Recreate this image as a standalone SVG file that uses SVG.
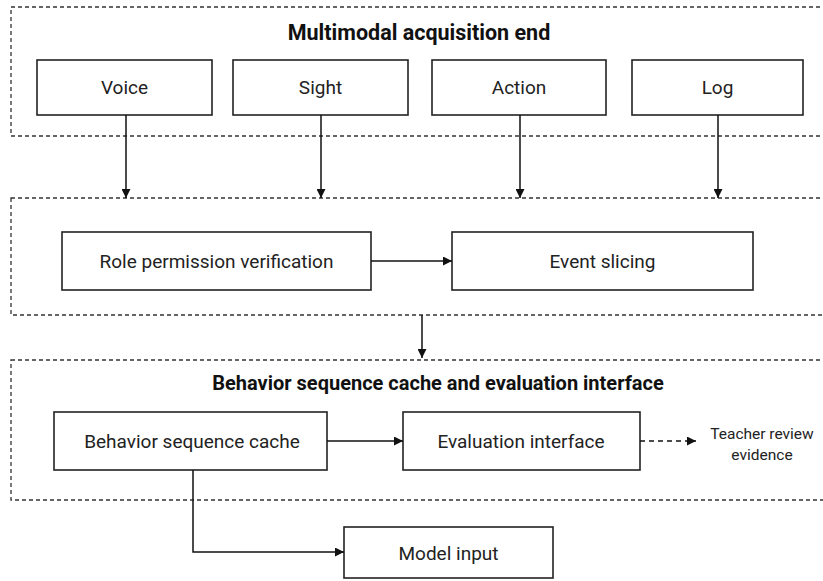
<svg xmlns="http://www.w3.org/2000/svg" width="823" height="581" viewBox="0 0 823 581">
<style>
.bg{fill:#ffffff}
.container{fill:none;stroke:#333;stroke-width:1.3;stroke-dasharray:4 3}
.box{fill:#fff;stroke:#222;stroke-width:1.6}
.t{font-family:Roboto,"Liberation Sans",sans-serif;font-size:19px;fill:#222;text-anchor:middle}
.title{font-family:Roboto,"Liberation Sans",sans-serif;font-size:20px;font-weight:bold;fill:#111;text-anchor:middle}
.small{font-family:Roboto,"Liberation Sans",sans-serif;font-size:15.5px;fill:#222;text-anchor:middle}
.edge{fill:none;stroke:#111;stroke-width:1.5}
.dashed{stroke-dasharray:5 4}
</style>
<defs>
<marker id="arrow" viewBox="0 0 10 10" refX="10" refY="5" markerWidth="9" markerHeight="9" markerUnits="userSpaceOnUse" orient="auto">
<path d="M0,0 L10,5 L0,10 Z" fill="#111"/>
</marker>
</defs>
<rect class="bg" x="0" y="0" width="823" height="581"/>

<g id="container-acquisition">
<rect class="container" x="11" y="7" width="830" height="129"/>
<text class="title" x="419" y="40" style="font-size:21.5px">Multimodal acquisition end</text>
</g>
<g id="container-processing">
<rect class="container" x="11" y="198" width="830" height="117"/>
</g>
<g id="container-cache">
<rect class="container" x="11" y="360" width="830" height="140"/>
<text class="title" x="438" y="390">Behavior sequence cache and evaluation interface</text>
</g>

<g id="voice"><rect class="box" x="37" y="60" width="175" height="55"/><text class="t" x="124.5" y="94">Voice</text></g>
<g id="sight"><rect class="box" x="233" y="60" width="175" height="55"/><text class="t" x="320.5" y="94">Sight</text></g>
<g id="action"><rect class="box" x="432" y="60" width="174" height="55"/><text class="t" x="519" y="94">Action</text></g>
<g id="log"><rect class="box" x="632" y="60" width="171" height="55"/><text class="t" x="717.5" y="94">Log</text></g>

<g id="role"><rect class="box" x="62" y="232" width="309" height="58"/><text class="t" x="216.5" y="268">Role permission verification</text></g>
<g id="event"><rect class="box" x="452" y="232" width="301" height="58"/><text class="t" x="602.5" y="268">Event slicing</text></g>

<g id="cache"><rect class="box" x="54" y="412" width="273" height="58"/><text class="t" x="192" y="448">Behavior sequence cache</text></g>
<g id="evaluation"><rect class="box" x="403" y="412" width="237" height="58"/><text class="t" x="521" y="448">Evaluation interface</text></g>
<g id="teacher"><text class="small" x="762" y="439">Teacher review</text><text class="small" x="762" y="460">evidence</text></g>
<g id="model"><rect class="box" x="344" y="527" width="209" height="51"/><text class="t" x="448.5" y="560">Model input</text></g>

<g id="connectors">
<line class="edge" x1="126" y1="115" x2="126" y2="198" marker-end="url(#arrow)"/>
<line class="edge" x1="321" y1="115" x2="321" y2="198" marker-end="url(#arrow)"/>
<line class="edge" x1="520" y1="115" x2="520" y2="198" marker-end="url(#arrow)"/>
<line class="edge" x1="718" y1="115" x2="718" y2="198" marker-end="url(#arrow)"/>
<line class="edge" x1="371" y1="261" x2="452" y2="261" marker-end="url(#arrow)"/>
<line class="edge" x1="422" y1="315" x2="422" y2="358" marker-end="url(#arrow)"/>
<line class="edge" x1="327" y1="441" x2="403" y2="441" marker-end="url(#arrow)"/>
<line class="edge dashed" x1="640" y1="441" x2="696" y2="441" marker-end="url(#arrow)"/>
<polyline class="edge" points="193,470 193,552 344,552" marker-end="url(#arrow)"/>
</g>
</svg>
